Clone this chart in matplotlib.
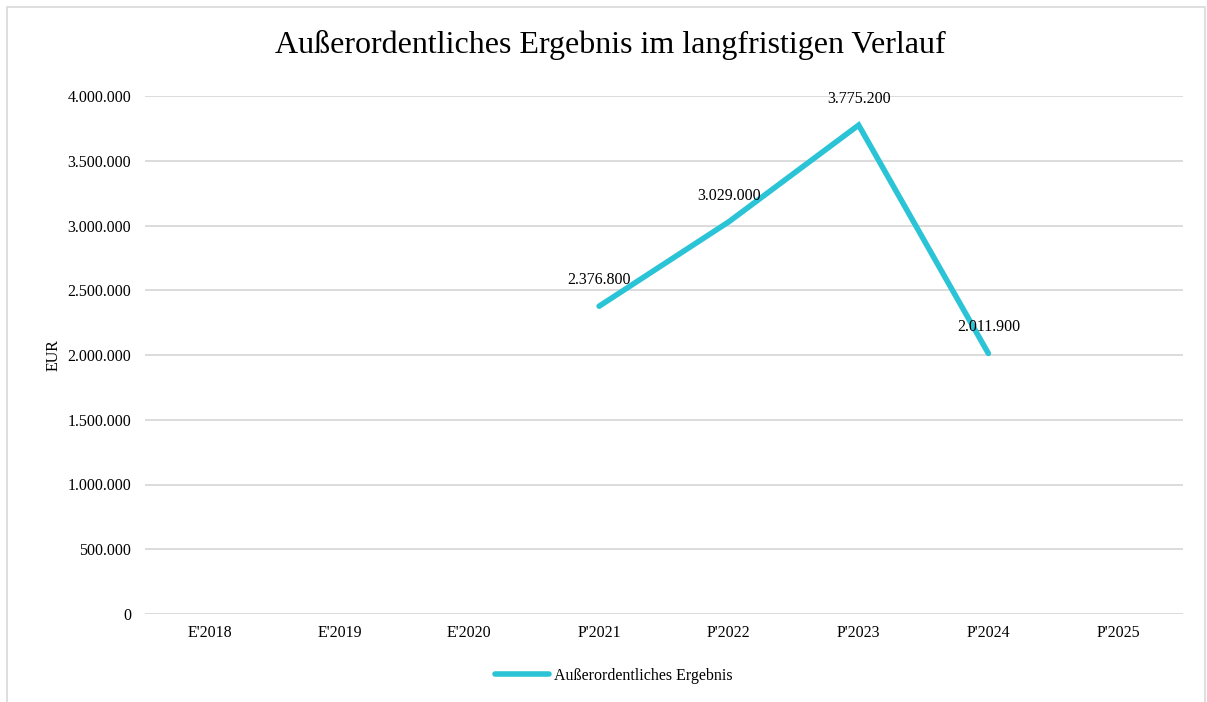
import matplotlib.pyplot as plt
import numpy as np
from matplotlib.patches import Rectangle
from matplotlib.lines import Line2D
from matplotlib.ticker import FuncFormatter

# Daten
jahre = ["E'2018", "E'2019", "E'2020", "P'2021", "P'2022", "P'2023", "P'2024", "P'2025"]
werte = [np.nan, np.nan, np.nan, 2376800, 3029000, 3775200, 2011900, np.nan]
reihe = "Außerordentliches Ergebnis"

farbe = '#2BC4D7'
plt.rcParams['font.family'] = ['Liberation Serif', 'DejaVu Serif']
fs = 11.5

fig = plt.figure(figsize=(12.07, 7.02), dpi=100)
ax = fig.add_axes([145/1207, 1 - 614/702, (1183-145)/1207, (614-96)/702])

x = np.arange(len(jahre))
ax.plot(x, werte, color=farbe, linewidth=4, solid_capstyle='round', solid_joinstyle='miter')

for xi, v in zip(x, werte):
    if not np.isnan(v):
        ax.annotate(f"{v:,.0f}".replace(',', '.'), (xi, v), xytext=(0, 13),
                    textcoords='offset points', ha='center', va='bottom', fontsize=fs)

ax.set_xlim(-0.5, len(jahre) - 0.5)
ax.set_ylim(0, 4000000)
ax.set_yticks(np.arange(0, 4000001, 500000))
ax.yaxis.set_major_formatter(FuncFormatter(lambda v, p: f"{v:,.0f}".replace(',', '.')))
ax.set_xticks(x)
ax.set_xticklabels(jahre)
ax.tick_params(axis='both', length=0, labelsize=fs)
ax.tick_params(axis='y', pad=10)
ax.tick_params(axis='x', pad=8)
ax.grid(axis='y', color='#d9d9d9', linewidth=1.3)
ax.set_axisbelow(True)
for s in ax.spines.values():
    s.set_visible(False)

ax.set_ylabel('EUR', fontsize=fs, labelpad=4)
fig.text(610/1207, 1 - 45/702, 'Außerordentliches Ergebnis im langfristigen Verlauf',
         ha='center', va='center', fontsize=23)

handle = Line2D([], [], color=farbe, linewidth=4, solid_capstyle='round')
fig.legend([handle], [reihe], loc='center', bbox_to_anchor=(614/1207, 1 - 676/702),
           frameon=False, fontsize=fs, handlelength=3.4, handletextpad=0.3)

fig.patches.append(Rectangle((7/1207, -0.05), (1205-7)/1207, 1.05 - 7/702,
                             transform=fig.transFigure, fill=False,
                             edgecolor='#d9d9d9', linewidth=1.2))

fig.savefig('out.png', dpi=100)
